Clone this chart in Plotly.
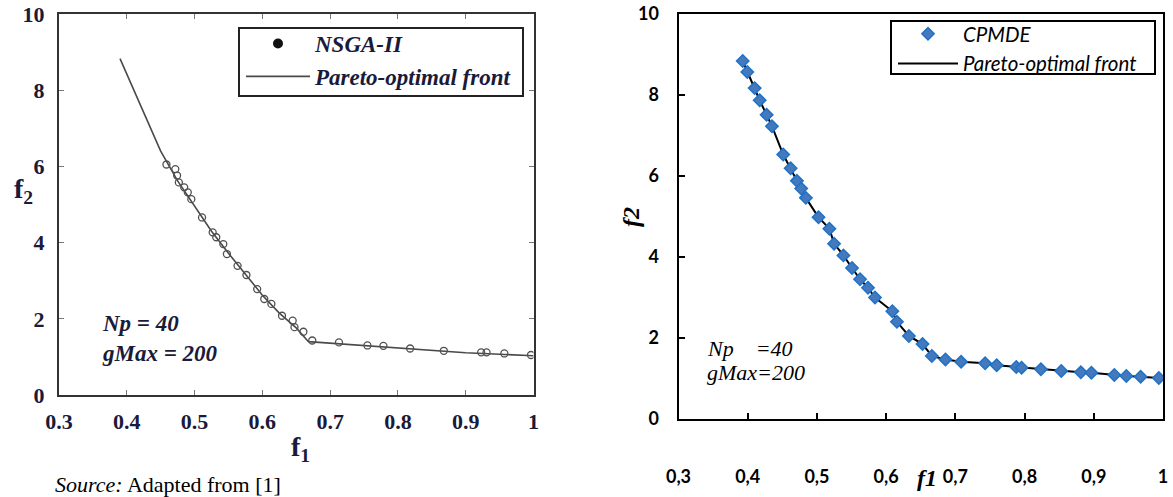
import plotly.graph_objects as go

W, H = 1173, 497

# ---------------- Left panel data (NSGA-II, adapted from [1]) ----------------
nsga_f1 = [0.4585, 0.4716, 0.4742, 0.4768, 0.4847, 0.4900, 0.4952, 0.5110, 0.5267,
           0.5320, 0.5424, 0.5477, 0.5634, 0.5765, 0.5923, 0.6028, 0.6133, 0.6290,
           0.6447, 0.6474, 0.6605, 0.6736, 0.7130, 0.7550, 0.7786, 0.8180, 0.8677,
           0.9228, 0.9307, 0.9570, 0.9963]
nsga_f2 = [6.05, 5.93, 5.76, 5.58, 5.45, 5.32, 5.14, 4.66, 4.27,
           4.14, 3.96, 3.70, 3.39, 3.15, 2.78, 2.52, 2.39, 2.08,
           1.95, 1.78, 1.66, 1.43, 1.38, 1.30, 1.29, 1.22, 1.16,
           1.12, 1.12, 1.09, 1.05]
front_left_f1 = [0.390, 0.420, 0.450, 0.475, 0.500, 0.525, 0.550, 0.575, 0.600,
                 0.625, 0.650, 0.668, 0.700, 0.750, 0.800, 0.850, 0.900, 0.950, 1.000]
front_left_f2 = [8.83, 7.60, 6.40, 5.62, 4.95, 4.30, 3.72, 3.18, 2.62,
                 2.15, 1.76, 1.40, 1.36, 1.29, 1.22, 1.16, 1.11, 1.07, 1.03]

# ---------------- Right panel data (CPMDE) ----------------
cpmde_f1 = [0.3928, 0.3994, 0.4100, 0.4173, 0.4273, 0.4350, 0.4513, 0.4620, 0.4710,
            0.4773, 0.4840, 0.5023, 0.5180, 0.5248, 0.5383, 0.5507, 0.5623, 0.5738,
            0.5839, 0.6090, 0.6156, 0.6329, 0.6526, 0.6660, 0.6857, 0.7083, 0.7430,
            0.7597, 0.7880, 0.7957, 0.8236, 0.8530, 0.8813, 0.8966, 0.9297, 0.9470,
            0.9677, 0.9940]
cpmde_f2 = [8.84, 8.57, 8.17, 7.87, 7.51, 7.23, 6.53, 6.19, 5.88,
            5.69, 5.46, 4.98, 4.70, 4.33, 4.04, 3.73, 3.45, 3.24,
            3.00, 2.66, 2.40, 2.05, 1.85, 1.556, 1.47, 1.415, 1.375,
            1.326, 1.284, 1.267, 1.227, 1.185, 1.153, 1.143, 1.086, 1.062,
            1.044, 1.012]
front_right_f1 = cpmde_f1
front_right_f2 = cpmde_f2

tick_vals = [0.3, 0.4, 0.5, 0.6, 0.7, 0.8, 0.9, 1.0]
left_tick_text = ["0.3", "0.4", "0.5", "0.6", "0.7", "0.8", "0.9", "1"]
right_tick_text = ["0,3", "0,4", "0,5", "0,6", "0,7", "0,8", "0,9", "1"]
y_tick_vals = [0, 2, 4, 6, 8, 10]

NAVY = "#1a1a3a"
SERIF = "Liberation Serif"
SANS = "Lato"


def fx(x):
    return x / W


def fy(y):
    return 1 - y / H


fig = go.Figure()

# Left panel traces
fig.add_trace(go.Scatter(x=front_left_f1, y=front_left_f2, mode="lines",
                         line=dict(color="#4a4a4a", width=1.6),
                         name="<b><i>Pareto-optimal front</i></b>",
                         xaxis="x", yaxis="y", legend="legend", legendrank=2))
fig.add_trace(go.Scatter(x=nsga_f1, y=nsga_f2, mode="markers",
                         marker=dict(symbol="circle-open", size=7, color="#505050",
                                     line=dict(width=1.3)),
                         showlegend=False, xaxis="x", yaxis="y"))
fig.add_trace(go.Scatter(x=[None], y=[None], mode="markers",
                         marker=dict(symbol="circle", size=10, color="#111111"),
                         name="<b><i>NSGA-II</i></b>",
                         xaxis="x", yaxis="y", legend="legend", legendrank=1))

# Right panel traces
fig.add_trace(go.Scatter(x=front_right_f1, y=front_right_f2, mode="lines",
                         line=dict(color="#000000", width=2),
                         name="<i>Pareto-optimal front</i>",
                         xaxis="x2", yaxis="y2", legend="legend2", legendrank=2))
fig.add_trace(go.Scatter(x=cpmde_f1, y=cpmde_f2, mode="markers",
                         marker=dict(symbol="diamond", size=9.5, color="#4479BD",
                                     line=dict(color="#1F72C7", width=1.5)),
                         name="<i>CPMDE</i>",
                         xaxis="x2", yaxis="y2", legend="legend2", legendrank=1))

x1d = [fx(59), fx(533.5)]
y1d = [fy(395), fy(14)]
x2d = [fx(678.5), fx(1163)]
y2d = [fy(419), fy(14)]

fig.update_layout(
    width=W, height=H,
    margin=dict(l=0, r=0, t=0, b=0, pad=0, autoexpand=False),
    paper_bgcolor="white", plot_bgcolor="white",
    showlegend=True,
    xaxis=dict(domain=x1d, anchor="y", range=[0.3, 1.0], automargin=False,
               ticklabeloverflow="allow",
               tickvals=tick_vals, ticktext=left_tick_text,
               ticks="inside", ticklen=5, tickwidth=1, tickcolor="#777",
               showline=True, linecolor="#333", linewidth=2, mirror="ticks",
               showgrid=False, zeroline=False, ticklabelstandoff=6,
               tickfont=dict(family=SERIF, size=22, color=NAVY, weight="bold")),
    yaxis=dict(domain=y1d, anchor="x", range=[0, 10], automargin=False,
               ticklabeloverflow="allow",
               tickvals=y_tick_vals,
               ticks="inside", ticklen=5, tickwidth=1, tickcolor="#777",
               showline=True, linecolor="#333", linewidth=2, mirror="ticks",
               showgrid=False, zeroline=False, ticklabelstandoff=8,
               tickfont=dict(family=SERIF, size=22, color=NAVY, weight="bold")),
    xaxis2=dict(domain=x2d, anchor="y2", range=[0.3, 1.0], automargin=False,
                ticklabeloverflow="allow",
                tickvals=tick_vals, ticktext=right_tick_text,
                ticks="inside", ticklen=6, tickwidth=2, tickcolor="#000",
                showline=True, linecolor="#000", linewidth=2, mirror=True,
                showgrid=False, zeroline=False, ticklabelstandoff=40,
                tickfont=dict(family=SANS, size=18, color="#000", weight="bold")),
    yaxis2=dict(domain=y2d, anchor="x2", range=[0, 10], automargin=False,
                ticklabeloverflow="allow",
                tickvals=y_tick_vals,
                ticks="inside", ticklen=6, tickwidth=2, tickcolor="#000",
                showline=True, linecolor="#000", linewidth=2, mirror=True,
                showgrid=False, zeroline=False, ticklabelstandoff=14,
                tickfont=dict(family=SANS, size=18, color="#000", weight="bold")),
    legend=dict(x=fx(241), y=fy(22), xanchor="left", yanchor="top",
                bgcolor="rgba(0,0,0,0)", borderwidth=0,
                font=dict(family=SERIF, size=23, color=NAVY),
                itemwidth=64, tracegroupgap=0),
    legend2=dict(x=fx(893), y=fy(14), xanchor="left", yanchor="top",
                 bgcolor="rgba(0,0,0,0)", borderwidth=0,
                 font=dict(family=SANS, size=20.5, color="#000"),
                 itemwidth=60, tracegroupgap=0),
    shapes=[
        dict(type="rect", xref="paper", yref="paper",
             x0=fx(239), x1=fx(523), y0=fy(96), y1=fy(28),
             line=dict(color="#222", width=2), fillcolor="rgba(0,0,0,0)",
             layer="above"),
        dict(type="rect", xref="paper", yref="paper",
             x0=fx(891), x1=fx(1155), y0=fy(74), y1=fy(21),
             line=dict(color="#000", width=2), fillcolor="rgba(0,0,0,0)",
             layer="above"),
    ],
)

ann = []


def add_text(x, y, text, size, family, color="#000", xanchor="center", angle=0):
    ann.append(dict(x=fx(x), y=fy(y), xref="paper", yref="paper", text=text,
                    showarrow=False, xanchor=xanchor, yanchor="middle",
                    textangle=angle,
                    font=dict(family=family, size=size, color=color)))


# Left panel texts
add_text(23, 190, "<b>f<sub>2</sub></b>", 28, SERIF, NAVY)
add_text(300, 448, "<b>f<sub>1</sub></b>", 28, SERIF, NAVY)
add_text(100, 323, "<b><i>Np = 40</i></b>", 23, SERIF, NAVY, xanchor="left")
add_text(100, 353, "<b><i>gMax = 200</i></b>", 23, SERIF, NAVY, xanchor="left")
add_text(53, 484, "<i>Source:</i> Adapted from [1]", 22, SERIF, "#000", xanchor="left")

# Right panel texts
add_text(927, 478, "<b><i>f1</i></b>", 24, SERIF, "#000")
add_text(631, 217, "<b><i>f2</i></b>", 24, SERIF, "#000", angle=-90)
add_text(705, 348, "<i>Np\u00a0\u00a0\u00a0\u00a0=40</i>", 22, SERIF, "#000", xanchor="left")
add_text(705, 372, "<i>gMax=200</i>", 22, SERIF, "#000", xanchor="left")

fig.update_layout(annotations=ann)

fig.write_html(
    "out.html",
    config={"displayModeBar": False, "responsive": False},
    post_script="document.body.style.margin='0';document.body.style.overflow='hidden';",
)
